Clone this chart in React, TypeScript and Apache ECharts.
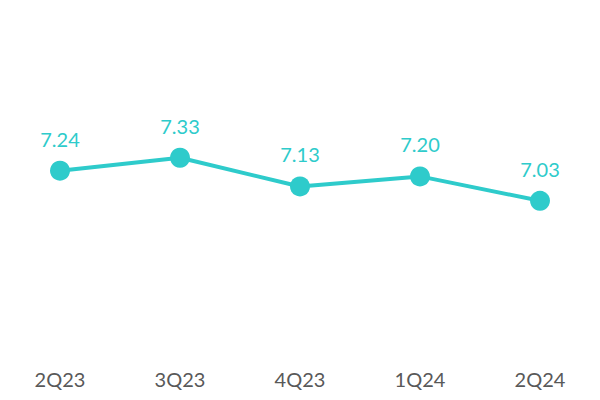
import React, { useEffect, useRef } from 'react';
import * as echarts from 'echarts';

const quarters = ['2Q23', '3Q23', '4Q23', '1Q24', '2Q24'];
const values = [7.24, 7.33, 7.13, 7.2, 7.03];

const TEAL = '#2ECBCB';

const App: React.FC = () => {
  const chartRef = useRef<HTMLDivElement>(null);

  useEffect(() => {
    if (!chartRef.current) return;
    const chart = echarts.init(chartRef.current, null, { renderer: 'svg' });

    chart.setOption({
      animation: false,
      grid: { left: 0, right: 0, top: 119, bottom: 37 },
      xAxis: {
        type: 'category',
        data: quarters,
        axisLine: { show: false },
        axisTick: { show: false },
        axisLabel: {
          color: '#595959',
          fontSize: 20,
          fontFamily: 'Lato',
          margin: 6,
        },
      },
      yAxis: {
        type: 'value',
        min: 5.9,
        max: 7.6,
        show: false,
        splitLine: { show: false },
      },
      series: [
        {
          type: 'line',
          data: values,
          symbol: 'circle',
          symbolSize: 20,
          lineStyle: { color: TEAL, width: 4 },
          itemStyle: { color: TEAL },
          label: {
            show: true,
            position: 'top',
            distance: 12,
            color: TEAL,
            fontSize: 20,
            fontFamily: 'Lato',
            formatter: (p: any) => Number(p.value).toFixed(2),
          },
        },
      ],
    });

    return () => {
      chart.dispose();
    };
  }, []);

  return (
    <div
      ref={chartRef}
      style={{ position: 'absolute', top: 0, left: 0, width: 600, height: 400 }}
    />
  );
};

export default App;
